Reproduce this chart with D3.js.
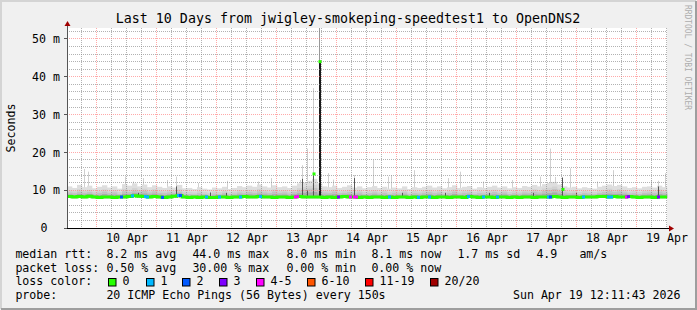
<!DOCTYPE html>
<html>
<head>
<meta charset="utf-8">
<script src="https://cdn.jsdelivr.net/npm/d3@7"></script>
<style>
body { margin: 0; background: #fff; }
svg text { font-family: "DejaVu Sans Mono", monospace; }
</style>
</head>
<body>
<svg id="graph" width="697" height="310"></svg>
<script>
// time window of the graph (UTC)
const startTime = new Date(Date.UTC(2026, 3, 9, 12, 11, 43));
const endTime = new Date(Date.UTC(2026, 3, 19, 12, 11, 43));
const stepHours = 2;

// one value per 2 hours, ms
const medianMs = [
  8.3, 8.2, 8.3, 8.2, 8.4, 8.2, 8.1, 8.2, 8.2, 8.1, 8.2, 8.2,
  8.3, 8.5, 8.4, 8.3, 8.2, 8.3, 8.2, 8.1, 8.2, 8.4, 8.6, 8.2,
  8.1, 8.2, 8.1, 8.2, 8.1, 8.1, 8.2, 8.2, 8.1, 8.2, 8.2, 8.3,
  8.2, 8.2, 8.3, 8.2, 8.2, 8.1, 8.2, 8.2, 8.1, 8.2, 8.3, 8.2,
  8.2, 8.2, 8.2, 8.1, 8.2, 8.1, 8.2, 8.3, 8.2, 8.2, 8.1, 8.2,
  8.1, 8.2, 8.2, 8.1, 8.2, 8.1, 8.2, 8.2, 8.1, 8.2, 8.1, 8.2,
  8.2, 8.1, 8.2, 8.2, 8.1, 8.2, 8.2, 8.1, 8.3, 8.2, 8.1, 8.2,
  8.2, 8.1, 8.2, 8.2, 8.1, 8.2, 8.1, 8.2, 8.2, 8.1, 8.2, 8.2,
  8.2, 8.3, 8.2, 8.1, 8.2, 8.2, 8.1, 8.2, 8.2, 8.2, 8.3, 8.3,
  8.2, 8.3, 8.2, 8.2, 8.3, 8.2, 8.1, 8.2, 8.2, 8.1, 8.2, 8.2
];
const pingP75 = [
  9.4, 9.2, 9.6, 9.3, 9.5, 9.1, 9.3, 9.6, 9.2, 9.4, 9.0, 9.7,
  9.5, 9.9, 9.6, 9.8, 9.4, 9.7, 9.3, 9.2, 9.4, 9.3, 9.6, 9.1,
  9.0, 8.9, 9.2, 9.0, 8.8, 9.1, 9.0, 9.3, 8.9, 9.1, 9.4, 9.2,
  9.5, 9.3, 9.7, 9.4, 9.2, 9.6, 9.3, 9.4, 9.1, 9.5, 9.9, 10.2,
  10.4, 10.6, 9.8, 9.4, 9.3, 9.6, 9.2, 9.3, 9.5, 9.2, 9.4, 9.0,
  9.2, 9.4, 9.1, 9.3, 9.0, 9.2, 9.1, 9.4, 8.9, 9.2, 9.1, 9.3,
  9.5, 9.2, 9.4, 9.0, 9.2, 9.6, 9.1, 9.3, 9.4, 9.0, 9.2, 9.1,
  9.3, 9.5, 9.2, 9.4, 9.0, 9.2, 9.1, 9.4, 9.3, 9.6, 9.4, 9.8,
  10.0, 10.3, 9.8, 9.4, 9.2, 9.3, 9.0, 9.2, 9.1, 9.0, 9.3, 9.5,
  9.8, 9.5, 9.7, 9.4, 9.1, 9.2, 9.0, 9.3, 9.4, 9.2, 9.6, 9.3
];
const pingMax = [
  11.0, 10.6, 11.4, 10.8, 11.2, 10.5, 10.9, 11.3, 10.7, 11.0, 10.4, 11.6,
  11.2, 11.8, 11.0, 11.5, 10.8, 11.3, 10.9, 10.6, 11.0, 10.7, 11.4, 10.5,
  10.6, 10.3, 10.8, 10.4, 10.2, 10.7, 10.5, 10.9, 10.3, 10.6, 11.1, 10.8,
  11.2, 10.9, 11.5, 11.0, 10.7, 11.3, 10.8, 11.0, 10.6, 11.2, 11.8, 12.0,
  12.5, 13.0, 11.8, 11.0, 10.8, 11.2, 10.6, 10.9, 11.3, 10.7, 11.0, 10.5,
  10.8, 11.1, 10.6, 10.9, 10.4, 10.7, 10.5, 11.0, 10.3, 10.8, 10.6, 10.9,
  11.2, 10.7, 11.0, 10.5, 10.8, 11.3, 10.6, 10.9, 11.1, 10.4, 10.8, 10.6,
  10.9, 11.2, 10.7, 11.0, 10.5, 10.8, 10.6, 11.1, 10.9, 11.4, 11.0, 11.6,
  11.9, 12.2, 11.5, 11.0, 10.7, 10.9, 10.5, 10.8, 10.6, 10.4, 10.9, 11.2,
  11.5, 11.1, 11.4, 11.0, 10.6, 10.8, 10.5, 10.9, 11.0, 10.7, 11.2, 10.8
];

// single outlier pings (hours after start, ms)
const smokeSpikeHours = [6.8, 8.4, 23.6, 26.4, 30.4, 40, 43.6, 52.4, 64, 76.4, 81.6, 93.2, 94.4, 96, 98.4, 100.8,
  104.4, 106.4, 114.8, 122.4, 128.4, 130, 139.2, 152.4, 157.2, 166.4, 178, 189.2, 193.2, 195.2, 198, 201.2,
  212, 218.4, 234, 236.4, 239.2];
const smokeSpikeMs = [15.6, 14.9, 13.6, 12.3, 13.2, 12.7, 13.6, 11.9, 12.5, 12.3, 13.2, 12.7, 16.6, 21, 37, 53,
  14.5, 12.8, 14, 18, 13.6, 14, 15.3, 13.2, 14.9, 12.3, 12.7, 13.6, 21, 13.5, 13.5, 15.8,
  12.3, 15.3, 12.7, 12.5, 14.5];

// dense smoke columns (hours, top ms, median ms where it jumped)
const denseSpikeHours = [28.4, 43.6, 57.2, 63.6, 94.4, 96, 98.4, 100.8, 114.8, 134, 151.2, 168.8, 186.4, 198, 204, 236.4];
const denseSpikeMs = [9.3, 11, 9.4, 9.3, 13, 10, 14.3, 44, 13.2, 9.3, 9.3, 9.3, 9.3, 13.3, 9.3, 11];
const denseSpikeMedian = [null, null, null, null, null, null, 14.3, 44, null, null, null, null, null, 10.2, null, null];

// samples with packet loss (hours, lost pings of 20)
const lossHours = [21.6, 26, 31.2, 32, 38, 44.4, 45.2, 55.6, 60.8, 69.2, 77.2, 91.2, 92, 108.4, 113.2, 114.8, 115.6,
  128.8, 140.4, 145.2, 160.4, 166.4, 172, 192.4, 193.2, 206.4, 216.4, 217.6, 223.6, 224.4, 236.4];
const lossPings = [2, 1, 1, 1, 2, 1, 2, 1, 1, 1, 1, 4, 4, 3, 4, 4, 4,
  1, 1, 1, 1, 1, 1, 1, 2, 1, 1, 1, 4, 3, 3];

const lossLabels = ["0", "1", "2", "3", "4-5", "6-10", "11-19", "20/20"];
const lossColors = ["#26ff00", "#00b8ff", "#0059ff", "#7e00ff", "#ff00ff", "#ff5500", "#ff0000", "#a00000"];
const lossLimits = [0, 1, 2, 3, 5, 10, 19, 20];

const yTicks = [0, 10, 20, 30, 40, 50];
const rttLegend = ["median rtt:", "8.2 ms avg", "44.0 ms max", "8.0 ms min", "8.1 ms now", "1.7 ms sd", "4.9", "am/s"];
const lossLegend = ["packet loss:", "0.50 % avg", "30.00 % max", "0.00 % min", "0.00 % now"];
const probeLegend = ["probe:", "20 ICMP Echo Pings (56 Bytes) every 150s"];
const stampText = "Sun Apr 19 12:11:43 2026";
const titleText = "Last 10 Days from jwigley-smokeping-speedtest1 to OpenDNS2";

const W = 697, H = 310;
const plot = { left: 67, right: 667, top: 28, bottom: 228 };
const legendCols = [16, 107, 193, 287, 372, 458, 537, 580];
const legendRows = [258, 271.5, 285, 298.5];
const swatchX = [108, 146, 182, 219, 256, 307, 365, 430];

const at = h => new Date(startTime.getTime() + h * 3600e3);
const lossColor = n => lossColors[lossLimits.findIndex(l => n <= l)];
const medianAt = h => medianMs[Math.min(medianMs.length - 1, Math.floor(h / stepHours))];

const svg = d3.select("#graph");

const x = d3.scaleUtc().domain([startTime, endTime]).range([plot.left, plot.right]);
const y = d3.scaleLinear().domain([0, 52.9]).range([plot.bottom, plot.top]);

// background + frame
svg.append("rect").attr("width", W).attr("height", H).attr("fill", "#f0f0f0");
svg.append("path").attr("d", `M1,${H - 1}V1H${W - 1}`).attr("fill", "none").attr("stroke", "#d4d4d4").attr("stroke-width", 2);
svg.append("path").attr("d", `M1,${H - 1}H${W - 1}V1`).attr("fill", "none").attr("stroke", "#9e9e9e").attr("stroke-width", 2);
svg.append("rect").attr("x", plot.left).attr("y", plot.top)
  .attr("width", plot.right - plot.left).attr("height", plot.bottom - plot.top).attr("fill", "#fff");

// smoke
const samples = medianMs.map((m, i) => ({
  t0: at(i * stepHours), t1: at((i + 1) * stepHours), m: m, q: pingP75[i], M: pingMax[i]
}));

svg.append("g").selectAll("rect")
  .data(smokeSpikeHours.map((h, i) => ({ t: at(h), v: smokeSpikeMs[i] })))
  .join("rect")
  .attr("x", d => Math.floor(x(d.t)))
  .attr("width", 1)
  .attr("y", d => y(Math.min(d.v, 52.9)))
  .attr("height", d => y(8.6) - y(Math.min(d.v, 52.9)))
  .attr("fill", d => d.v > 45 ? "#9a9a9a" : "#cfcfcf");

const bands = [
  { top: d => d.M, fill: "#dedede" },
  { top: d => d.q + (d.M - d.q) * 0.35, fill: "#d2d2d2" },
  { top: d => d.q, fill: "#c2c2c2" },
  { top: d => d.m + (d.q - d.m) * 0.55, fill: "#a9a9a9" }
];
bands.forEach(b => {
  svg.append("g").selectAll("rect")
    .data(samples)
    .join("rect")
    .attr("x", d => x(d.t0))
    .attr("width", d => x(d.t1) - x(d.t0) + 0.3)
    .attr("y", d => y(b.top(d)))
    .attr("height", d => y(d.m - 0.3) - y(b.top(d)))
    .attr("fill", b.fill);
});

svg.append("g").selectAll("rect")
  .data(denseSpikeHours.map((h, i) => ({ t: at(h), h: h, v: denseSpikeMs[i] })))
  .join("rect")
  .attr("x", d => Math.floor(x(d.t)))
  .attr("width", d => d.v > 30 ? 2 : 1)
  .attr("y", d => y(d.v))
  .attr("height", d => y(medianAt(d.h)) - y(d.v))
  .attr("fill", d => d.v > 30 ? "#1a1a1a" : "#555");

// grid (semi transparent, drawn over the smoke like rrdtool does)
const gridG = svg.append("g").attr("fill", "none");
const hourTicks = d3.utcHour.range(startTime, endTime);
const minorX = hourTicks.filter(d => d.getUTCHours() % 6 === 0 && d.getUTCHours() !== 0);
const majorX = hourTicks.filter(d => d.getUTCHours() === 0);
const minorY = d3.range(2, 53, 2).filter(v => v % 10 !== 0);
const majorY = yTicks.filter(v => v > 0);

function vLines(g, data, color, op) {
  g.selectAll("line").data(data).join("line")
    .attr("x1", d => Math.floor(x(d)) + 0.5).attr("x2", d => Math.floor(x(d)) + 0.5)
    .attr("y1", plot.top).attr("y2", plot.bottom)
    .attr("stroke", color).attr("stroke-opacity", op).attr("stroke-dasharray", "1,1");
}
function hLines(g, data, color, op) {
  g.selectAll("line").data(data).join("line")
    .attr("x1", plot.left).attr("x2", plot.right)
    .attr("y1", d => Math.floor(y(d)) + 0.5).attr("y2", d => Math.floor(y(d)) + 0.5)
    .attr("stroke", color).attr("stroke-opacity", op).attr("stroke-dasharray", "1,1");
}
gridG.append("g").call(vLines, minorX, "#888", 0.65);
gridG.append("g").call(hLines, minorY, "#888", 0.65);
gridG.append("g").call(vLines, majorX, "#ff7070", 0.6);
gridG.append("g").call(hLines, majorY, "#ff7070", 0.6);

// median line and loss colours
const medianPts = samples.map(d => ({ t: d.t0, m: d.m })).concat([{ t: endTime, m: medianMs[medianMs.length - 1] }]);
svg.append("path")
  .datum(medianPts)
  .attr("fill", "none")
  .attr("stroke", lossColors[0])
  .attr("stroke-width", 3)
  .attr("d", d3.line().x(d => x(d.t)).y(d => y(d.m)).curve(d3.curveStepAfter));

svg.append("g").selectAll("rect")
  .data(lossHours.map((h, i) => ({ t: at(h), h: h, n: lossPings[i] })))
  .join("rect")
  .attr("x", d => Math.floor(x(d.t)) - 1)
  .attr("y", d => y(medianAt(d.h)) - 1.5)
  .attr("width", 3).attr("height", 3)
  .attr("fill", d => lossColor(d.n));

svg.append("g").selectAll("rect")
  .data(denseSpikeHours.map((h, i) => ({ t: at(h), v: denseSpikeMedian[i] })).filter(d => d.v !== null))
  .join("rect")
  .attr("x", d => Math.floor(x(d.t)) - 0.5)
  .attr("y", d => y(d.v) - 1.5)
  .attr("width", 3).attr("height", 3)
  .attr("fill", lossColors[0]);

// axes
svg.append("line").attr("x1", plot.left + 0.5).attr("x2", plot.left + 0.5)
  .attr("y1", plot.bottom).attr("y2", plot.top - 3).attr("stroke", "#555");
svg.append("line").attr("x1", plot.left - 2).attr("x2", plot.right + 3)
  .attr("y1", plot.bottom + 0.5).attr("y2", plot.bottom + 0.5).attr("stroke", "#000");
svg.append("path")
  .attr("d", `M${plot.left - 2.5},${plot.top - 2}L${plot.left + 3.5},${plot.top - 2}L${plot.left + 0.5},${plot.top - 7}Z`)
  .attr("fill", "#a00000");
svg.append("path")
  .attr("d", `M${plot.right + 2},${plot.bottom - 2.5}L${plot.right + 2},${plot.bottom + 3.5}L${plot.right + 7},${plot.bottom + 0.5}Z`)
  .attr("fill", "#a00000");
svg.append("g").selectAll("line").data(majorY.concat([0])).join("line")
  .attr("x1", plot.left - 3).attr("x2", plot.left)
  .attr("y1", d => Math.floor(y(d)) + 0.5).attr("y2", d => Math.floor(y(d)) + 0.5)
  .attr("stroke", "#555");

function yAxis(g) {
  g.attr("transform", `translate(${plot.left},0)`)
    .call(d3.axisLeft(y).tickValues(yTicks).tickSize(0).tickPadding(7)
      .tickFormat(d => d === 0 ? "0" : d + " m"))
    .attr("font-family", "DejaVu Sans Mono").attr("font-size", "11.6px");
  g.select(".domain").remove();
  g.selectAll("text").attr("fill", "#000").attr("dx", d => d === 0 ? -12.5 : 0);
}
function xAxis(g) {
  const noons = d3.utcDay.range(startTime, endTime).map(d => d3.utcHour.offset(d, 12));
  g.attr("transform", `translate(0,${plot.bottom})`)
    .call(d3.axisBottom(x).tickValues(noons).tickSize(0).tickPadding(6).tickFormat(d3.utcFormat("%d %b")))
    .attr("font-family", "DejaVu Sans Mono").attr("font-size", "11.6px");
  g.select(".domain").remove();
  g.selectAll("text").attr("fill", "#000");
}
svg.append("g").call(yAxis);
svg.append("g").call(xAxis);

// texts
svg.append("text").attr("x", 348).attr("y", 23).attr("text-anchor", "middle")
  .attr("font-size", "13.3px").text(titleText);
svg.append("text").attr("transform", `translate(15,${(plot.top + plot.bottom) / 2}) rotate(-90)`)
  .attr("text-anchor", "middle").attr("font-size", "11.6px").text("Seconds");
svg.append("text").attr("transform", "translate(685,5) rotate(90)")
  .attr("font-size", "8.4px").attr("fill", "#adadad")
  .attr("textLength", 105).attr("lengthAdjust", "spacingAndGlyphs")
  .text("RRDTOOL / TOBI OETIKER");

const legend = svg.append("g").attr("font-size", "11.6px").attr("fill", "#000");
legend.selectAll(".r1").data(rttLegend).join("text")
  .attr("x", (d, i) => legendCols[i] - 0.6).attr("y", legendRows[0]).text(d => d);
legend.selectAll(".r2").data(lossLegend).join("text")
  .attr("x", (d, i) => legendCols[i] - 0.6).attr("y", legendRows[1]).text(d => d);
legend.append("text").attr("x", legendCols[0] - 0.6).attr("y", legendRows[2]).text("loss color:");
legend.selectAll(".sw").data(lossLabels).join("rect")
  .attr("x", (d, i) => swatchX[i] + 0.5).attr("y", legendRows[2] - 6.5)
  .attr("width", 7.5).attr("height", 7.5)
  .attr("fill", (d, i) => lossColors[i]).attr("stroke", "#000");
legend.selectAll(".swl").data(lossLabels).join("text")
  .attr("x", (d, i) => swatchX[i] + 14.5).attr("y", legendRows[2]).text(d => d);
legend.selectAll(".r4").data(probeLegend).join("text")
  .attr("x", (d, i) => legendCols[i] - 0.6).attr("y", legendRows[3]).text(d => d);
legend.append("text").attr("x", 680.5).attr("y", legendRows[3]).attr("text-anchor", "end").text(stampText);
</script>
</body>
</html>
